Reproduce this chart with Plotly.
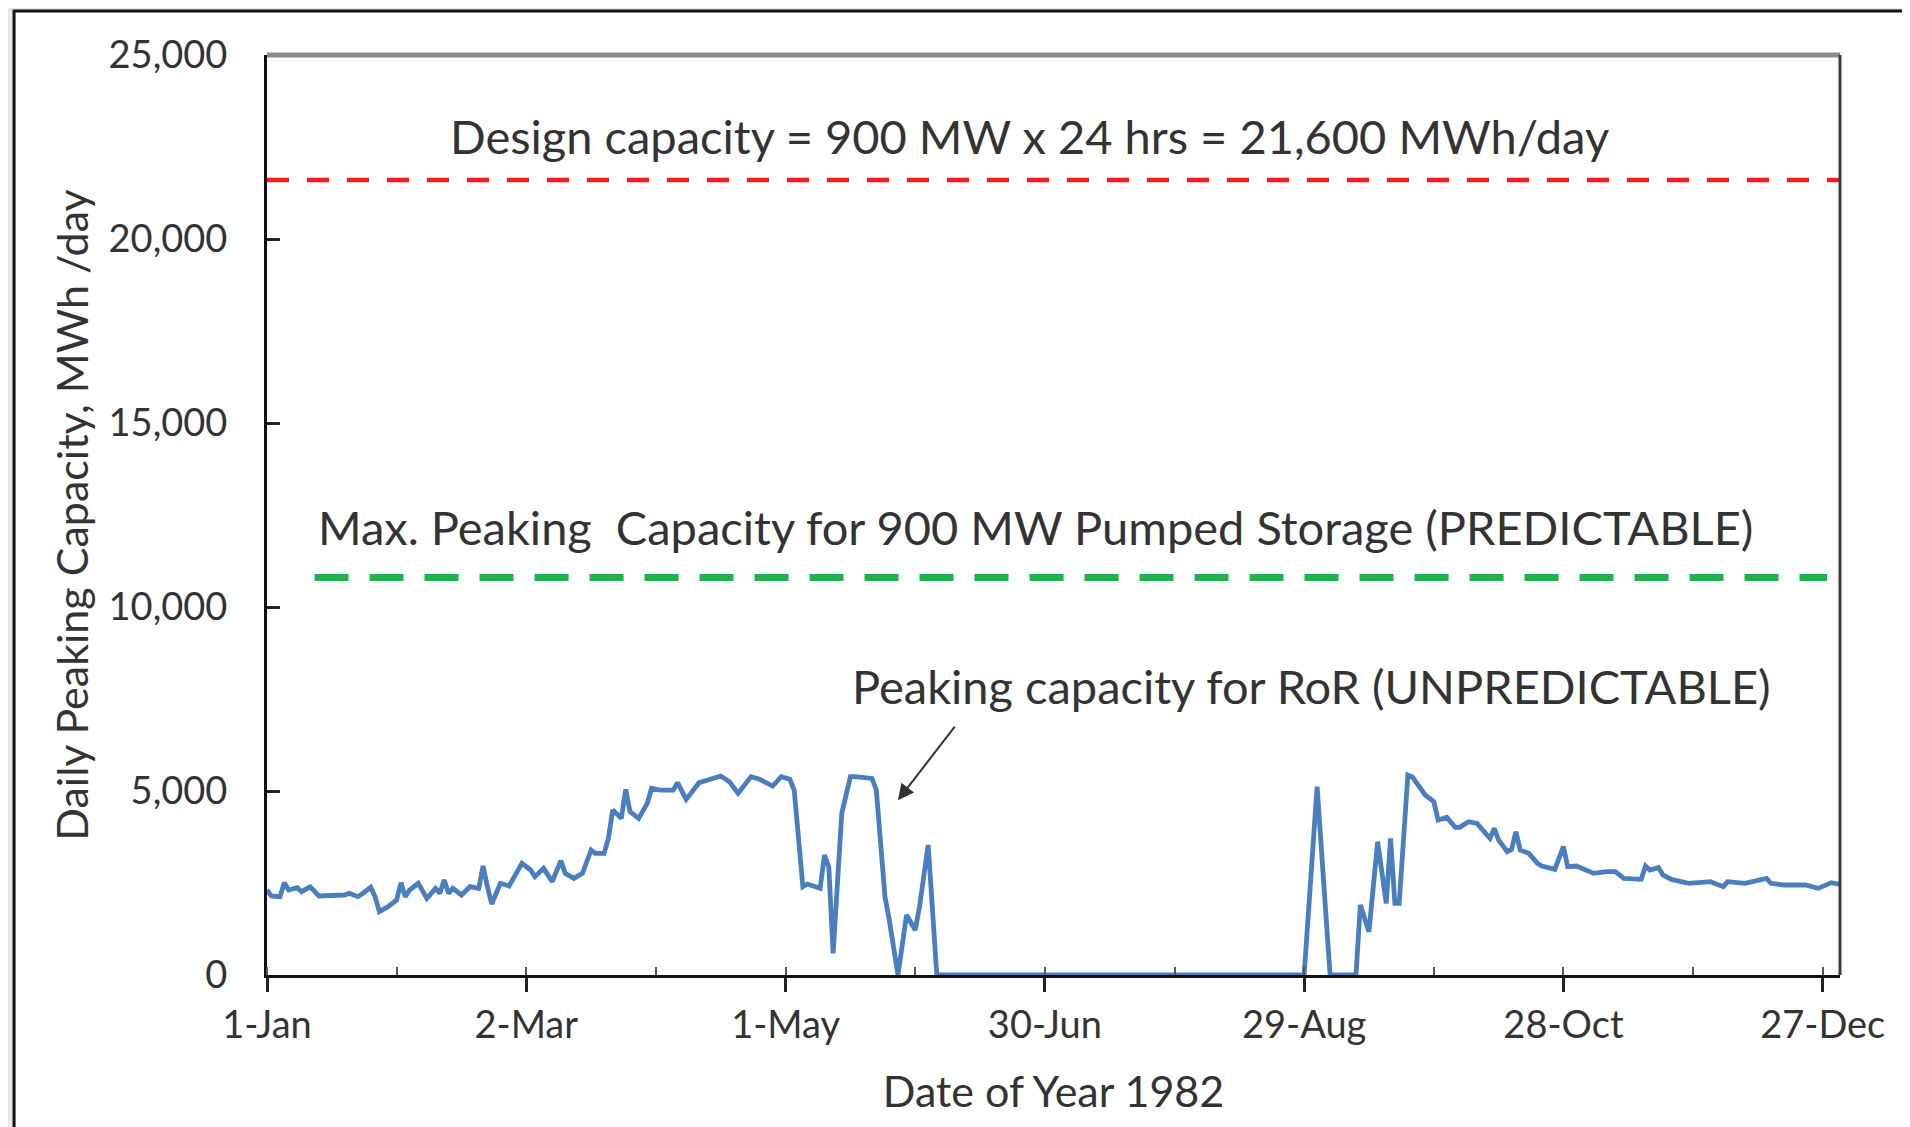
import pandas as pd
import plotly.graph_objects as go

# ---------------- data ----------------
YEAR_START = "1982-01-01"

# Day-of-year offsets (0 = 1-Jan-1982) and peaking capacity for RoR, MWh/day
ror_day = [0, 1, 3, 4, 5, 7, 8, 10, 12, 18, 19, 21, 22, 24, 25, 26, 28, 30, 31,
           32, 33, 35, 37, 39, 40, 41, 42, 43, 45, 47, 49, 50, 51, 52, 54, 56,
           59, 61, 62, 64, 66, 68, 69, 71, 73, 75, 76, 78, 79, 80, 82, 83, 84,
           86, 88, 89, 91, 94, 95, 97, 100, 105, 107, 109, 112, 114, 117, 119,
           121, 122, 124, 125, 128, 129, 130, 131, 133, 135, 136, 140, 141, 143,
           144, 146, 148, 150, 151, 153, 155, 240, 243, 246, 252, 253, 255, 257,
           259, 260, 261, 262, 264, 265, 268, 270, 271, 273, 275, 276, 278, 280,
           281, 283, 284, 285, 287, 288, 289, 290, 292, 294, 295, 298, 300, 301,
           303, 305, 307, 310, 312, 314, 318, 319, 320, 322, 323, 325, 329, 334,
           335, 337, 338, 342, 347, 348, 351, 356, 359, 362, 364]
ror_mwh = [2310, 2150, 2128, 2508, 2310, 2373, 2264, 2400, 2147, 2174, 2219, 2128,
           2201, 2382, 2128, 1720, 1856, 2038, 2508, 2128, 2310, 2491, 2083, 2355,
           2219, 2581, 2219, 2355, 2174, 2400, 2355, 2962, 2400, 1929, 2491, 2418,
           3034, 2853, 2671, 2898, 2536, 3106, 2762, 2626, 2762, 3396, 3306, 3306,
           3713, 4483, 4257, 5045, 4438, 4257, 4664, 5072, 5026, 5026, 5226, 4773,
           5226, 5407, 5253, 4936, 5389, 5317, 5135, 5389, 5317, 5026, 2400, 2472,
           2355, 3260, 2944, 589, 4393, 5389, 5389, 5343, 5026, 2128, 1494, 0,
           1630, 1223, 1856, 3532, 0, 0, 5117, 0, 0, 1902, 1177, 3623, 1947, 3713,
           1947, 1947, 5434, 5389, 4891, 4710, 4211, 4284, 4012, 4012, 4166, 4121,
           3985, 3713, 3985, 3668, 3351, 3410, 3894, 3396, 3306, 3034, 2962, 2871,
           3487, 2944, 2962, 2853, 2762, 2808, 2808, 2626, 2599, 2962, 2853, 2917,
           2717, 2599, 2491, 2536, 2491, 2400, 2536, 2491, 2626, 2491, 2445, 2445,
           2355, 2509, 2463]

design_day = [0, 364]
design_mwh = [21600, 21600]          # 900 MW x 24 h

pumped_day = [11, 361]
pumped_mwh = [10800, 10800]          # max peaking capacity, pumped storage

x_tick_day = [0, 60, 120, 180, 240, 300, 360]
x_tick_text = ["1-Jan", "2-Mar", "1-May", "30-Jun", "29-Aug", "28-Oct", "27-Dec"]
y_tick_vals = [0, 5000, 10000, 15000, 20000, 25000]

arrow_day = 146
arrow_mwh = 4750

# ---------------- helpers ----------------
start = pd.Timestamp(YEAR_START)


def to_dates(days):
    return [start + pd.Timedelta(days=int(d)) for d in days]


FONT = "Lato, 'Open Sans', sans-serif"
TXT = "#333333"

fig = go.Figure()

fig.add_trace(go.Scatter(
    x=to_dates(design_day), y=design_mwh, mode="lines",
    line=dict(color="#ff1a1a", width=4.5, dash="22px,18px"),
    showlegend=False, hoverinfo="skip"))

fig.add_trace(go.Scatter(
    x=to_dates(pumped_day), y=pumped_mwh, mode="lines",
    line=dict(color="#1fb24a", width=7, dash="34px,21px"),
    showlegend=False, hoverinfo="skip"))

fig.add_trace(go.Scatter(
    x=to_dates(ror_day), y=ror_mwh, mode="lines",
    line=dict(color="#4a7ebf", width=4.8),
    showlegend=False))

# plot frame: grey top, dark right
fig.add_shape(type="line", xref="x domain", yref="y domain",
              x0=0, x1=1, y0=1, y1=1, line=dict(color="#8a8a8a", width=5))
fig.add_shape(type="line", xref="x domain", yref="y domain",
              x0=1, x1=1, y0=0, y1=1, line=dict(color="#3c3c3c", width=3))

# outer white panel with black border
fig.add_shape(type="rect", xref="paper", yref="paper", layer="below",
              x0=-0.1608, x1=1.2, y0=-0.3, y1=1.0478,
              line=dict(color="#111111", width=3), fillcolor="white")

# annotations
ANN_SIZE = 47
fig.add_annotation(xref="paper", x=0.485, y=22800, yref="y",
                   text="Design capacity = 900 MW x 24 hrs = 21,600 MWh/day",
                   showarrow=False, xanchor="center", yanchor="middle",
                   font=dict(family=FONT, size=ANN_SIZE, color=TXT))
fig.add_annotation(xref="paper", x=0.4886, y=12170, yref="y",
                   text="Max. Peaking\u00a0 Capacity for 900 MW Pumped Storage (PREDICTABLE)",
                   showarrow=False, xanchor="center", yanchor="middle",
                   font=dict(family=FONT, size=ANN_SIZE, color=TXT))
fig.add_annotation(xref="paper", x=0.6637, y=7850, yref="y",
                   text="Peaking capacity for RoR (UNPREDICTABLE)",
                   showarrow=False, xanchor="center", yanchor="middle",
                   font=dict(family=FONT, size=ANN_SIZE, color=TXT))
fig.add_annotation(x=start + pd.Timedelta(days=arrow_day), y=arrow_mwh,
                   xref="x", yref="y", text="", showarrow=True,
                   ax=58, ay=-75, arrowhead=2, arrowsize=1.6, arrowwidth=2,
                   arrowcolor="#333333")

fig.update_layout(
    width=1902, height=1119,
    margin=dict(l=259, r=70, t=47, b=152),
    paper_bgcolor="#ebe8e1", plot_bgcolor="white",
    font=dict(family=FONT, color=TXT, size=38),
    showlegend=False,
)

fig.update_xaxes(
    type="date",
    range=[start, start + pd.Timedelta(days=364)],
    tickvals=to_dates(x_tick_day), ticktext=x_tick_text,
    ticks="outside", ticklen=14, tickwidth=2.5, tickcolor="#222",
    minor=dict(dtick=30 * 86400000, tick0=YEAR_START, ticks="inside",
               ticklen=8, tickwidth=2, tickcolor="#555"),
    showline=True, linecolor="#111", linewidth=3,
    showgrid=False, zeroline=False,
    tickfont=dict(size=38, color=TXT),
    title=dict(text="Date of Year 1982", font=dict(size=43, color=TXT), standoff=33),
)

fig.update_yaxes(
    range=[0, 25000], tickvals=y_tick_vals, tickformat=",",
    ticks="inside", ticklen=13, tickwidth=2.5, tickcolor="#222",
    ticklabelstandoff=29,
    showline=True, linecolor="#111", linewidth=3,
    showgrid=False, zeroline=False,
    tickfont=dict(size=38, color=TXT),
    title=dict(text="Daily Peaking Capacity, MWh /day", font=dict(size=43, color=TXT),
               standoff=7),
)

fig.write_html("out.html")
